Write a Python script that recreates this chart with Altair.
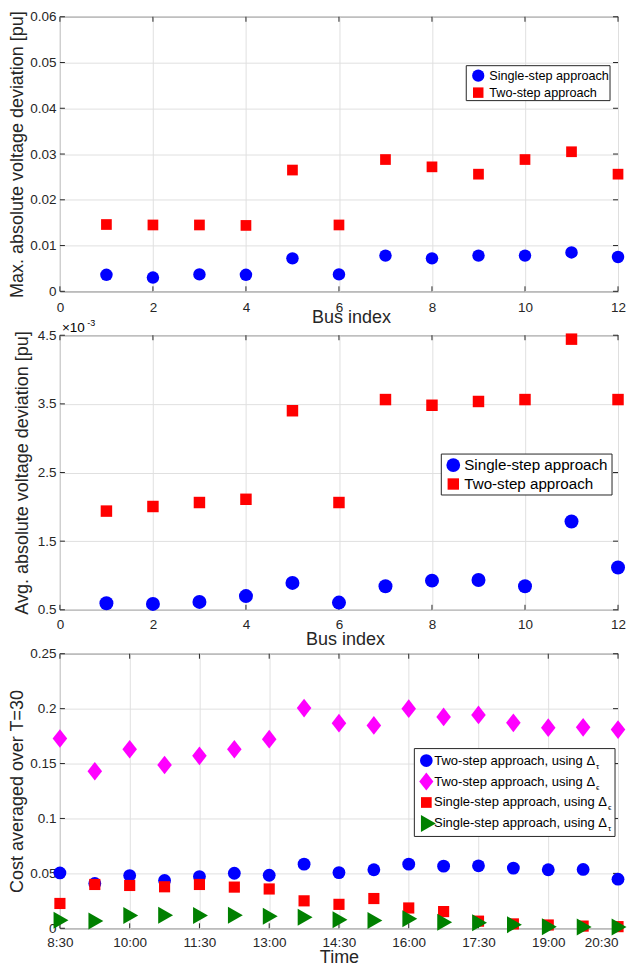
import altair as alt
import pandas as pd

FONT = "Liberation Sans"
INK = "#262626"
GRID = "#e0e0e0"

# ---------------- data ----------------
bus = list(range(1, 13))
max_single = [0.0036, 0.0030, 0.0037, 0.0036, 0.0072, 0.0037, 0.0078, 0.0072, 0.0078, 0.0078, 0.0085, 0.0075]
max_two = [0.0146, 0.0145, 0.0145, 0.0144, 0.0265, 0.0145, 0.0288, 0.0272, 0.0256, 0.0288, 0.0305, 0.0256]

# values in units of 1e-3 pu
avg_single_e3 = [0.596, 0.586, 0.615, 0.700, 0.892, 0.605, 0.844, 0.925, 0.935, 0.844, 1.786, 1.116]
avg_two_e3 = [1.938, 2.005, 2.063, 2.110, 3.400, 2.063, 3.563, 3.480, 3.535, 3.563, 4.443, 3.563]

times = ["8:30", "9:15", "10:00", "10:45", "11:30", "12:15", "13:00", "13:45", "14:30",
         "15:15", "16:00", "16:45", "17:30", "18:15", "19:00", "19:45", "20:30"]
two_tau = [0.0504, 0.0408, 0.0480, 0.0435, 0.0471, 0.0501, 0.0483, 0.0584, 0.0507,
           0.0533, 0.0584, 0.0566, 0.0569, 0.0548, 0.0533, 0.0536, 0.0447]
two_eps = [0.1728, 0.1430, 0.1630, 0.1487, 0.1570, 0.1630, 0.1722, 0.2005, 0.1868,
           0.1847, 0.2000, 0.1925, 0.1943, 0.1871, 0.1827, 0.1830, 0.1809]
single_eps = [0.0226, 0.0399, 0.0390, 0.0378, 0.0399, 0.0375, 0.0358, 0.0250, 0.0218,
              0.0271, 0.0185, 0.0152, 0.0065, 0.0040, 0.0030, 0.0020, 0.0015]
single_tau = [0.0074, 0.0066, 0.0116, 0.0119, 0.0116, 0.0119, 0.0110, 0.0101, 0.0077,
              0.0072, 0.0086, 0.0054, 0.0051, 0.0033, 0.0015, 0.0012, 0.0012]

labels_12 = ["Single-step approach", "Two-step approach"]
labels_3 = ["Two-step approach, using Δ", "Two-step approach, using Δ",
            "Single-step approach, using Δ", "Single-step approach, using Δ"]
subs_3 = ["τ", "ϵ", "ϵ", "τ"]

bus_ticks = [0, 2, 4, 6, 8, 10, 12]
max_ticks = [0, 0.01, 0.02, 0.03, 0.04, 0.05, 0.06]
avg_ticks = [0.5, 1.5, 2.5, 3.5, 4.5]
time_ticks = [8.5, 10, 11.5, 13, 14.5, 16, 17.5, 19, 20.5]
cost_ticks = [0, 0.05, 0.1, 0.15, 0.2, 0.25]

hours = [int(t.split(":")[0]) + int(t.split(":")[1]) / 60 for t in times]

W, H = 559, 275
TK = 5
BLUE, RED, MAG, GREEN = "#0000ff", "#ff0000", "#ff00ff", "#008000"
DIAMOND = "M0,-1L0.78,0L0,1L-0.78,0Z"
TRI = "M-0.75,-1L1,0L-0.75,1Z"


def xaxis(values, title, label_pad, title_x, title_y, label_expr=None, last=None):
    kw = dict(values=values, title=title, grid=True, gridColor=GRID, gridWidth=1,
              domain=False, ticks=False, tickSize=0, labelFontSize=13.5,
              labelColor=INK, labelPadding=label_pad, labelFlush=False,
              titleFontSize=18, titleFontWeight="normal", titleColor=INK,
              titleX=title_x, titleY=title_y, titleBaseline="middle", titleAlign="center")
    if label_expr:
        kw["labelExpr"] = label_expr
    if last is not None:
        kw["labelAlign"] = {"condition": {"test": f"datum.value >= {last}", "value": "right"},
                            "value": "center"}
    return alt.Axis(**kw)


def yaxis(values, title, title_x):
    return alt.Axis(values=values, title=title, grid=True, gridColor=GRID, gridWidth=1,
                    domain=False, ticks=False, tickSize=0, labelFontSize=13.5,
                    labelColor=INK, labelPadding=4, labelFlush=False,
                    labelExpr="format(datum.value, '~g')",
                    titleFontSize=18, titleFontWeight="normal", titleColor=INK,
                    titleX=title_x, titleY=H / 2, titleBaseline="middle",
                    titleAlign="center", titleAngle=270)


one = pd.DataFrame({"k": [0]})


def box(x1, x2, y1, y2):
    return alt.Chart(one).mark_rect(fill="white", stroke=INK, strokeWidth=1).encode(
        x=alt.value(x1), x2=alt.value(x2), y=alt.value(y1), y2=alt.value(y2))


def sym(x, y, shape, size, color):
    return alt.Chart(one).mark_point(shape=shape, size=size, filled=True, color=color,
                                     opacity=1).encode(x=alt.value(x), y=alt.value(y))


def txt(x, y, s, fs, align="left", baseline="middle"):
    return alt.Chart(one).mark_text(align=align, baseline=baseline, fontSize=fs, color="black",
                                    font=FONT).encode(
        x=alt.value(x), y=alt.value(y), text=alt.value(s))


def pts(df, xenc, field, yscale, yax, shape, size, color):
    return alt.Chart(df).mark_point(shape=shape, size=size, filled=True, color=color,
                                    opacity=1).encode(
        x=xenc, y=alt.Y(field, type="quantitative", scale=yscale, axis=yax))


def inward_ticks(xvals, xscale, xax, yvals, yscale, yax):
    dx = pd.DataFrame({"v": xvals})
    dy = pd.DataFrame({"v": yvals})
    xe = alt.X("v:Q", scale=xscale, axis=xax)
    ye = alt.Y("v:Q", scale=yscale, axis=yax)
    rule = dict(color=INK, strokeWidth=1)
    return [
        alt.Chart(dx).mark_rule(**rule).encode(x=xe, y=alt.value(H), y2=alt.value(H - TK)),
        alt.Chart(dx).mark_rule(**rule).encode(x=xe, y=alt.value(0), y2=alt.value(TK)),
        alt.Chart(dy).mark_rule(**rule).encode(y=ye, x=alt.value(0), x2=alt.value(TK)),
        alt.Chart(dy).mark_rule(**rule).encode(y=ye, x=alt.value(W), x2=alt.value(W - TK)),
    ]


# ---------------- panel 1 ----------------
df1 = pd.DataFrame({"bus": bus, "single": max_single, "two": max_two})
xs1 = alt.Scale(domain=[0, 12], nice=False, zero=False)
xa1 = xaxis(bus_ticks, "Bus index", 9, W / 2 + 12, 26)
x1 = alt.X("bus:Q", scale=xs1, axis=xa1)
ys1 = alt.Scale(domain=[0, 0.06], nice=False)
ya1 = yaxis(max_ticks, "Max. absolute voltage deviation [pu]", -42)
p1 = alt.layer(
    *inward_ticks(bus_ticks, xs1, xa1, max_ticks, ys1, ya1),
    pts(df1, x1, "single", ys1, ya1, "circle", 156, BLUE),
    pts(df1, x1, "two", ys1, ya1, "square", 115, RED),
    box(407, 551, 49, 84),
    sym(419, 59, "circle", 150, BLUE),
    sym(419, 76, "square", 110, RED),
    txt(430, 59, labels_12[0], 12.7),
    txt(430, 76, labels_12[1], 12.7),
).properties(width=W, height=H)

# ---------------- panel 2 ----------------
df2 = pd.DataFrame({"bus": bus, "single": avg_single_e3, "two": avg_two_e3})
xs2 = alt.Scale(domain=[0, 12], nice=False, zero=False)
xa2 = xaxis(bus_ticks, "Bus index", 8, W / 2 + 6, 30)
x2 = alt.X("bus:Q", scale=xs2, axis=xa2)
ys2 = alt.Scale(domain=[0.5, 4.5], nice=False, zero=False)
ya2 = yaxis(avg_ticks, "Avg. absolute voltage deviation [pu]", -37)
p2 = alt.layer(
    *inward_ticks(bus_ticks, xs2, xa2, avg_ticks, ys2, ya2),
    pts(df2, x2, "single", ys2, ya2, "circle", 196, BLUE),
    pts(df2, x2, "two", ys2, ya2, "square", 132, RED),
    box(382, 553, 119, 160),
    sym(394, 130, "circle", 190, BLUE),
    sym(394, 149, "square", 130, RED),
    txt(405, 130, labels_12[0], 15.2),
    txt(405, 149, labels_12[1], 15.2),
    txt(2, -7, "×10", 13.5),
    txt(27.5, -12, "-3", 9),
).properties(width=W, height=H)

# ---------------- panel 3 ----------------
df3 = pd.DataFrame({"t": hours, "two_tau": two_tau, "two_eps": two_eps,
                    "single_eps": single_eps, "single_tau": single_tau})
xs3 = alt.Scale(domain=[8.5, 20.5], nice=False, zero=False)
xa3 = xaxis(time_ticks, "Time", 7, W / 2, 29,
            "floor(datum.value) + ':' + (datum.value % 1 > 0.25 ? '30' : '00')", last=20.5)
x3 = alt.X("t:Q", scale=xs3, axis=xa3)
ys3 = alt.Scale(domain=[0, 0.25], nice=False)
ya3 = yaxis(cost_ticks, "Cost averaged over T=30", -42)
ly = [107, 128, 149, 170]
ends = [536, 536, 548, 548]
p3 = alt.layer(
    *inward_ticks(time_ticks, xs3, xa3, cost_ticks, ys3, ya3),
    pts(df3, x3, "two_tau", ys3, ya3, "circle", 165, BLUE),
    pts(df3, x3, "two_eps", ys3, ya3, DIAMOND, 350, MAG),
    pts(df3, x3, "single_eps", ys3, ya3, "square", 125, RED),
    pts(df3, x3, "single_tau", ys3, ya3, TRI, 290, GREEN),
    box(355, 556, 95, 183),
    sym(367, ly[0], "circle", 160, BLUE),
    sym(367, ly[1], DIAMOND, 330, MAG),
    sym(367, ly[2], "square", 115, RED),
    sym(368, ly[3], TRI, 290, GREEN),
    *[txt(ends[i], ly[i], labels_3[i], 13, align="right") for i in range(4)],
    *[txt(ends[i] + 1, ly[i] + 6, subs_3[i], 8) for i in range(4)],
).properties(width=W, height=H)

chart = alt.vconcat(p1, p2, p3, spacing=44, bounds="flush").properties(
    padding=0,
).configure(font=FONT).configure_view(stroke=INK, strokeWidth=1)

chart.save("out.html", embed_options={"renderer": "svg", "actions": False})
